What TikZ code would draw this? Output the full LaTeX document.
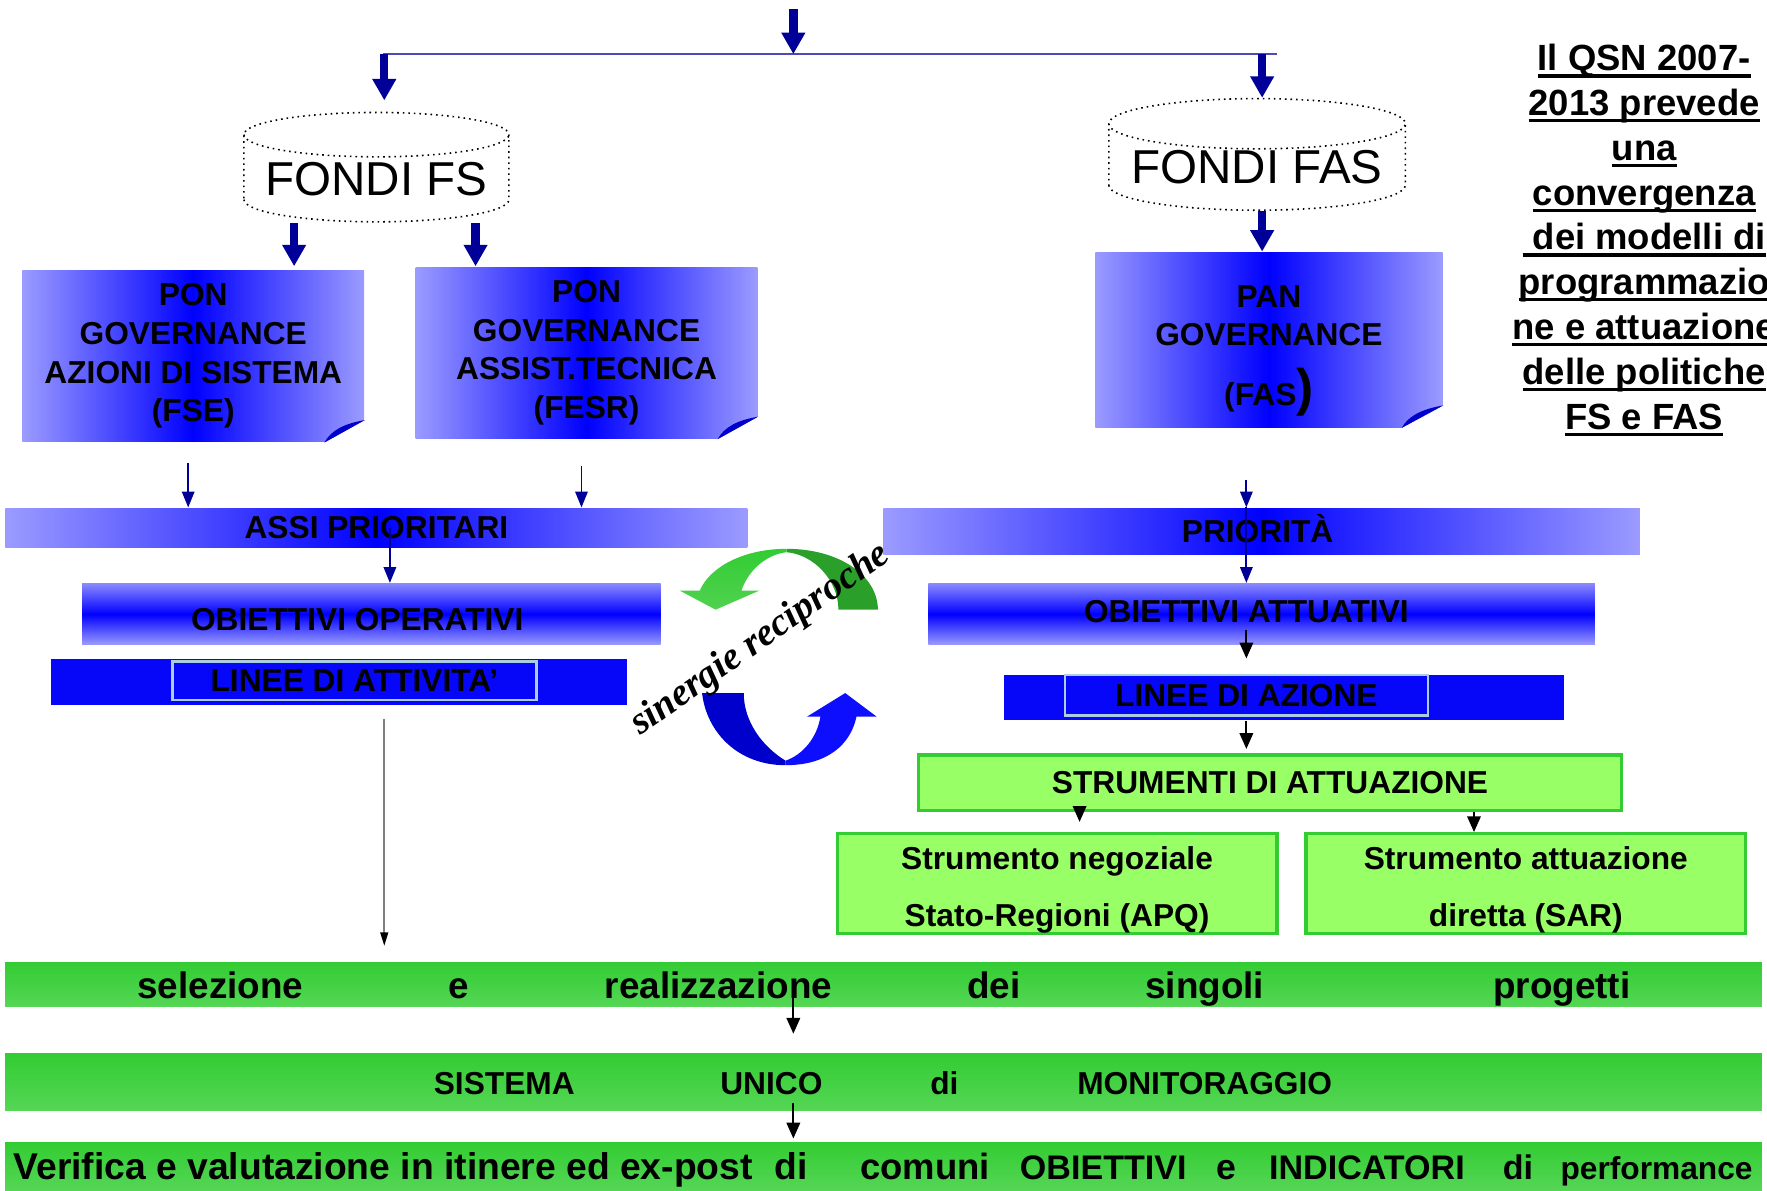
\documentclass[tikz,border=0pt]{standalone}
\usepackage{fontspec}
\setmainfont{Liberation Sans}
\newfontfamily\sinserif{Liberation Serif}
\usetikzlibrary{positioning,arrows.meta,shapes.geometric}

\definecolor{navyc}{RGB}{0,0,153}
\definecolor{lightbl}{RGB}{155,155,255}
\definecolor{midbl}{RGB}{136,136,255}
\definecolor{purebl}{RGB}{0,0,255}
\definecolor{lineebl}{RGB}{6,6,248}
\definecolor{edgebl}{RGB}{170,205,225}
\definecolor{foldbl}{RGB}{0,0,204}
\definecolor{grntop}{RGB}{51,204,51}
\definecolor{grnbot}{RGB}{85,214,85}
\definecolor{lightgrn}{RGB}{153,255,102}
\definecolor{grnedge}{RGB}{51,204,51}
\definecolor{arrgrn}{RGB}{51,204,51}
\definecolor{arrgrnb}{RGB}{80,210,80}
\definecolor{arrgrnd}{RGB}{42,160,42}
\definecolor{arrbl}{RGB}{0,0,204}
\definecolor{arrblb}{RGB}{14,14,255}

\newcommand{\bfbox}{\fontsize{8}{9.76}\selectfont\bfseries}
\newcommand{\bfrow}{\fontsize{9.3}{11}\selectfont\bfseries}
\newcommand{\bfqsn}{\fontsize{9.2}{11.3}\selectfont\bfseries}
\newcommand{\rgfondo}{\fontsize{12}{14}\selectfont}
\newcommand{\qsnul}[1]{\setbox0\hbox{#1}\rlap{\rule[-1.7pt]{\wd0}{0.8pt}}\box0}

\begin{document}
\begin{tikzpicture}[x=0.01cm, y=-0.01cm,
    fondo/.style={cylinder, shape border rotate=90, aspect=0.2, draw, densely dotted, fill=white, inner sep=0pt, font=\rgfondo},
    pon/.style={left color=lightbl, right color=lightbl, middle color=purebl, align=center, inner sep=0pt, font=\bfbox},
    hbar/.style={left color=lightbl, right color=lightbl, middle color=purebl, inner sep=0pt, font=\bfbox},
    vbar/.style={top color=midbl, bottom color=lightbl, middle color=purebl, inner sep=0pt, font=\bfbox},
    lbar/.style={fill=lineebl, inner sep=0pt},
    lbox/.style={draw=edgebl, line width=0.6pt, fill=lineebl, inner sep=0pt, font=\bfbox},
    gbox/.style={draw=grnedge, line width=0.8pt, fill=lightgrn, inner sep=0pt, font=\bfbox},
    gbar/.style={top color=grntop, bottom color=grnbot, inner sep=0pt},
    bartext/.style={inner sep=0pt, font=\bfbox},
    rowword/.style={anchor=base, inner sep=0pt, font=\bfrow},
    monword/.style={anchor=base, inner sep=0pt, font=\bfbox},
    hline/.style={draw=navyc!70, line width=0.7pt},
    bigarrow/.style={draw=navyc, line width=2.1pt, -{Triangle[width=0.2cm,length=0.19cm]}},
    thinarrow/.style={draw=navyc, line width=0.45pt, -{Triangle[width=0.11cm,length=0.14cm]}},
    blackarrow/.style={draw=black, line width=0.45pt, -{Triangle[width=0.12cm,length=0.14cm]}},
    grayline/.style={draw=gray, line width=0.4pt, -{Triangle[width=0.07cm,length=0.12cm,color=black]}},
]
    \useasboundingbox (0,0) rectangle (1568,1056);

    % top split
    \coordinate (start) at (704,8);
    \coordinate (split) at (704,48);
    \coordinate (splitL) at (340,48);
    \coordinate (splitR) at (1133,48);
    \draw[hline] (splitL) -- (splitR);
    \draw[bigarrow] (start) -- (split);

    % fondi
    \node[fondo, minimum width=2.35cm, minimum height=0.97cm] (fs) at (334,158.5) {FONDI FS};
    \node[fondo, minimum width=2.63cm, minimum height=0.99cm] (fas) at (1115.5,148.5) {FONDI FAS};
    \draw[bigarrow, shorten >=0.1cm] (341,0 |- splitL) -- (341,0 |- fs.north);
    \draw[bigarrow] (1120,0 |- splitR) -- (1120,0 |- fas.north);

    % programmi
    \node[pon, minimum width=3.03cm, minimum height=1.52cm] (pon1) at (171.5,316) {PON\\GOVERNANCE\\AZIONI DI SISTEMA\\(FSE)};
    \node[pon, minimum width=3.03cm, minimum height=1.52cm] (pon2) at (520.5,313) {PON\\GOVERNANCE\\ASSIST.TECNICA\\(FESR)};
    \node[pon, minimum width=3.08cm, minimum height=1.55cm] (pan) at (1126,301.5) {\rule{0pt}{11pt}PAN\\GOVERNANCE\\[5.2pt](FAS{\fontsize{13}{13}\selectfont)}};

    % folded corners
    \fill[white] (pon1.south east) -- ++(-36,0) -- ++(36,-20) -- cycle;
    \fill[foldbl] (pon1.south east) ++(-36,0) .. controls +(6,-11) and +(-18,3) .. ++(36,-20) -- cycle;
    \fill[white] (pon2.south east) -- ++(-36,0) -- ++(36,-20) -- cycle;
    \fill[foldbl] (pon2.south east) ++(-36,0) .. controls +(6,-11) and +(-18,3) .. ++(36,-20) -- cycle;
    \fill[white] (pan.south east) -- ++(-37,0) -- ++(37,-20) -- cycle;
    \fill[foldbl] (pan.south east) ++(-37,0) .. controls +(6,-11) and +(-18,3) .. ++(37,-20) -- cycle;

    \draw[bigarrow, shorten >=0.03cm] (261,0 |- fs.south) -- (261,0 |- pon1.north);
    \draw[bigarrow] (422,0 |- fs.south) -- (422,0 |- pon2.north);
    \draw[bigarrow] (1120,0 |- fas.south) -- (1120,0 |- pan.north);

    % left column
    \node[hbar, minimum width=6.58cm, minimum height=0.35cm] (assi) at (334,468.5) {ASSI PRIORITARI};
    \node[vbar, minimum width=5.13cm, minimum height=0.54cm] (obop) at (329.5,545) {};
    \node[bartext] (obop-t) at (317,550) {OBIETTIVI OPERATIVI};
    \node[lbar, minimum width=5.11cm, minimum height=0.41cm] (latt) at (300.5,605.5) {};
    \node[lbox, minimum width=3.23cm, minimum height=0.34cm] (lattin) at (314.5,604) {LINEE DI ATTIVITA’};

    \draw[thinarrow, shorten <=0.18cm] (167,0 |- pon1.south) -- (167,0 |- assi.north);
    \draw[thinarrow, shorten <=0.24cm] (516,0 |- pon2.south) -- (516,0 |- assi.north);
    \draw[thinarrow] (346,0 |- assi.center) -- (346,0 |- obop.north);

    % right column
    \node[hbar, minimum width=6.71cm, minimum height=0.41cm] (prio) at (1119.5,471.5) {};
    \node[bartext] (prio-t) at (1116,469) {PRIORITÀ};
    \node[vbar, minimum width=5.91cm, minimum height=0.54cm] (obat) at (1119.5,545) {};
    \node[bartext] (obat-t) at (1106,543) {OBIETTIVI ATTUATIVI};
    \node[lbar, minimum width=4.97cm, minimum height=0.40cm] (laz) at (1139.5,619) {};
    \node[lbox, minimum width=3.22cm, minimum height=0.36cm] (lazin) at (1106,617) {LINEE DI AZIONE};
    \node[gbox, minimum width=6.24cm, minimum height=0.49cm] (strum) at (1127,694.5) {STRUMENTI DI ATTUAZIONE};
    \node[gbox, minimum width=3.90cm, minimum height=0.86cm, align=center, font=\fontsize{8}{14.5}\selectfont\bfseries] (neg) at (938,784) {\rule{0pt}{9pt}Strumento negoziale\\Stato-Regioni (APQ)};
    \node[gbox, minimum width=3.90cm, minimum height=0.86cm, align=center, font=\fontsize{8}{14.5}\selectfont\bfseries] (sar) at (1354,784) {\rule{0pt}{9pt}Strumento attuazione\\diretta (SAR)};

    \draw[thinarrow, shorten <=0.46cm] (1106,0 |- pan.south) -- (1106,0 |- prio.north);
    \draw[thinarrow] (1106,0 |- prio.north) -- (1106,0 |- obat.north);
    \draw[blackarrow, shorten <=0.14cm, shorten >=0.14cm] (1106,0 |- obat.center) -- (1106,0 |- laz.north);
    \draw[blackarrow, shorten >=0.04cm] (1106,0 |- laz.south) -- (1106,0 |- strum.north);
    \draw[blackarrow, shorten >=0.09cm] (958,0 |- strum.south) -- (958,0 |- neg.north);
    \draw[blackarrow] (1308,0 |- strum.south) -- (1308,0 |- sar.north);

    % sinergie arrows
    \path[fill=arrgrnd] (779,541) .. controls (779,511) and (745,487) .. (698,487)
        -- (698,490) .. controls (722,492) and (744,515) .. (744,541) -- cycle;
    \path[top color=arrgrn, bottom color=arrgrnb] (698,487) .. controls (660,487) and (630,503) .. (621,524)
        -- (603,524) -- (635,541) -- (674,524) -- (658,524) .. controls (664,506) and (680,492) .. (698,490) -- cycle;
    \path[fill=arrbl] (623,615) .. controls (627,650) and (655,679) .. (697,679)
        -- (697,675) .. controls (676,662) and (660,640) .. (660,615) -- cycle;
    \path[fill=arrblb] (697,679) .. controls (735,679) and (755,660) .. (760,636)
        -- (778,636) -- (750,615) -- (716,636) -- (728,636) .. controls (725,655) and (712,670) .. (697,675) -- cycle;
    \node[rotate=35, inner sep=0pt, font=\sinserif\fontsize{9.8}{11}\selectfont\bfseries\itshape] (sin) at (675,568) {sinergie reciproche};

    % bottom bars
    \node[gbar, minimum width=15.58cm, minimum height=0.39cm] (sel) at (784,873.5) {};
    \node[gbar, minimum width=15.58cm, minimum height=0.50cm] (mon) at (784,960) {};
    \node[gbar, minimum width=15.58cm, minimum height=0.42cm] (ver) at (784,1035) {};

    \node[rowword] (sel1) at (195.5,886) {selezione};
    \node[rowword] (sel2) at (407,886) {e};
    \node[rowword] (sel3) at (637.5,886) {realizzazione};
    \node[rowword] (sel4) at (882,886) {dei};
    \node[rowword] (sel5) at (1069,886) {singoli};
    \node[rowword] (sel6) at (1386,886) {progetti};

    \node[monword] (mon1) at (447.5,971) {SISTEMA};
    \node[monword] (mon2) at (684.5,971) {UNICO};
    \node[monword] (mon3) at (838,971) {di};
    \node[monword] (mon4) at (1069,971) {MONITORAGGIO};

    \node[rowword, font=\fontsize{9.4}{11}\selectfont\bfseries] (ver1) at (340,1047) {Verifica e valutazione in itinere ed ex-post};
    \node[rowword, font=\fontsize{9.4}{11}\selectfont\bfseries] (ver2) at (702,1047) {di};
    \node[rowword, font=\fontsize{9.2}{11}\selectfont\bfseries] (ver3) at (821,1047) {comuni};
    \node[rowword, font=\fontsize{8.6}{11}\selectfont\bfseries] (ver4) at (979,1047) {OBIETTIVI};
    \node[rowword, font=\fontsize{9}{11}\selectfont\bfseries] (ver5) at (1088,1047) {e};
    \node[rowword, font=\fontsize{8.6}{11}\selectfont\bfseries] (ver6) at (1213,1047) {INDICATORI};
    \node[rowword, font=\fontsize{8.6}{11}\selectfont\bfseries] (ver7) at (1347,1047) {di};
    \node[rowword, font=\fontsize{8}{11}\selectfont\bfseries] (ver8) at (1470,1047) {performance};

    \draw[grayline, shorten <=0.11cm, shorten >=0.14cm] (341,0 |- latt.south) -- (341,0 |- sel.north);
    \draw[blackarrow, shorten <=0.12cm, shorten >=0.17cm] (704,0 |- sel.center) -- (704,0 |- mon.north);
    \draw[blackarrow, shorten <=0.19cm, shorten >=0.03cm] (704,0 |- mon.center) -- (704,0 |- ver.north);

    % note on the right
    \node[align=center, inner sep=0pt, font=\bfqsn] (qsn) at (1459,213) {\qsnul{Il QSN 2007-}\\\qsnul{2013 prevede}\\\qsnul{una}\\\qsnul{convergenza}\\\qsnul{\ dei modelli di}\\\qsnul{programmazio}\\\qsnul{ne e attuazione}\\\qsnul{delle politiche}\\\qsnul{FS e FAS}};
\end{tikzpicture}
\end{document}
